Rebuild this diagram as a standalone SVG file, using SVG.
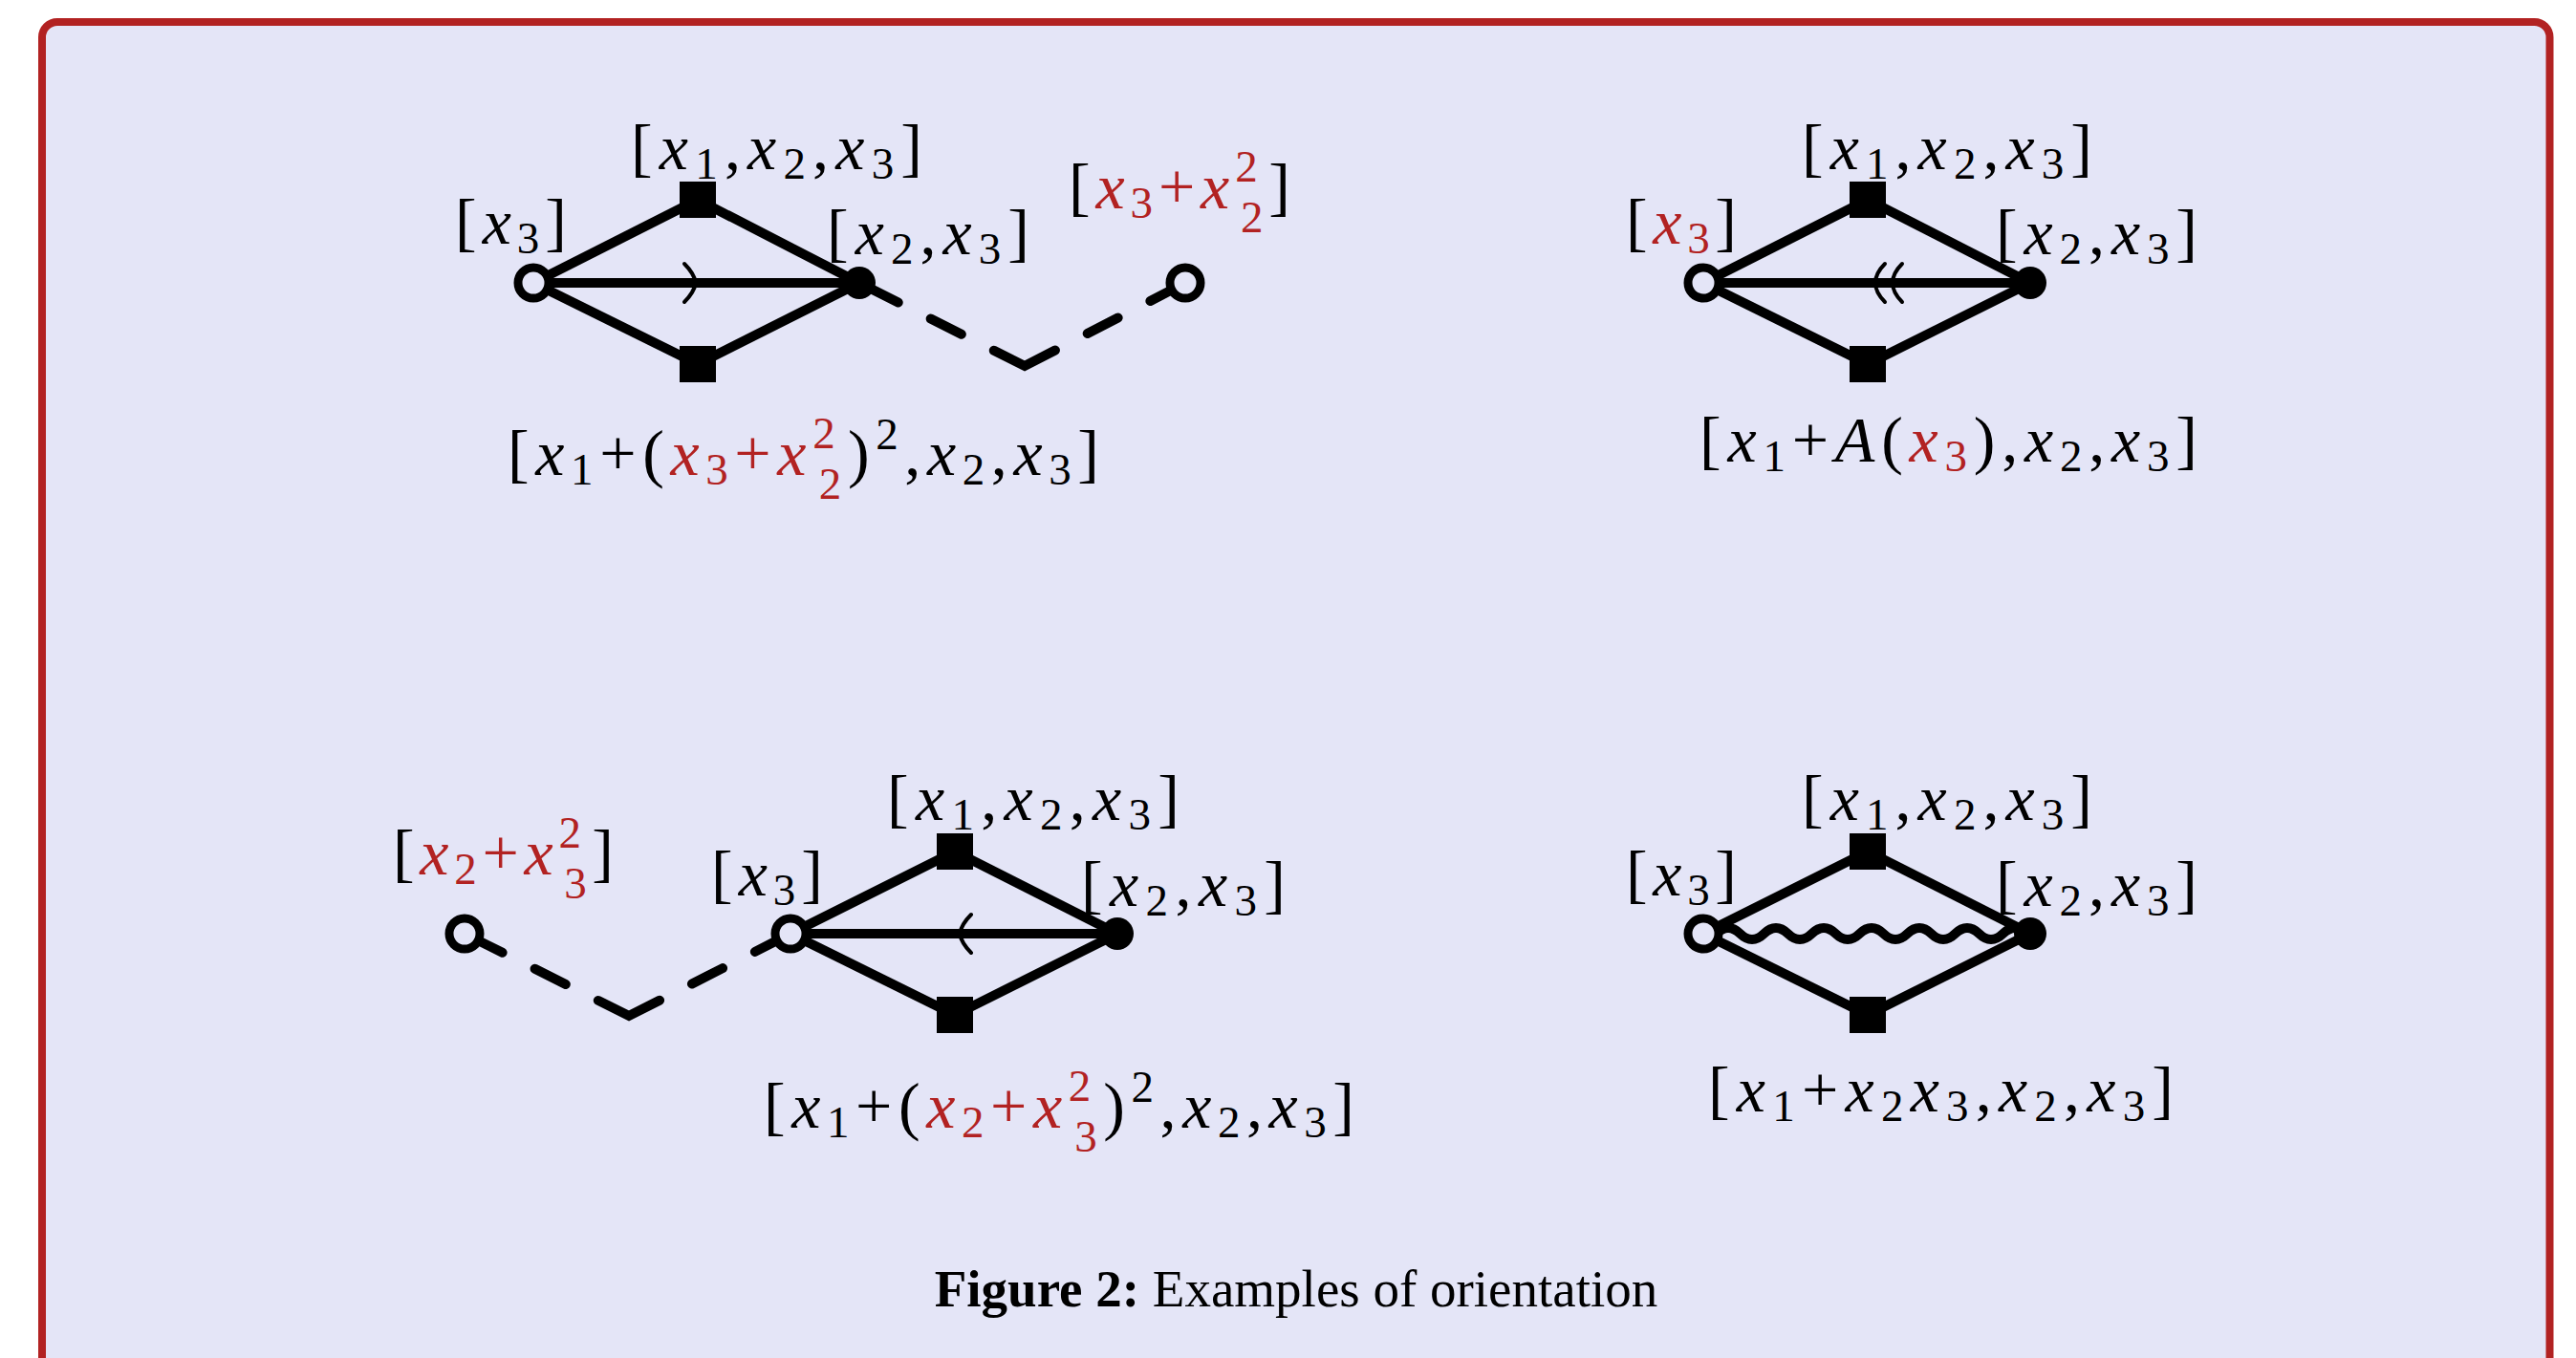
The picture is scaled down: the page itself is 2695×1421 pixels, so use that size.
<svg xmlns="http://www.w3.org/2000/svg" width="2695" height="1421" viewBox="0 0 2695 1421">
<style>
.bg{fill:#E4E5F7;stroke:#B22222;stroke-width:8}
.e{stroke:#000;stroke-width:10;fill:none}
.ar{stroke:#000;stroke-width:4;fill:none;stroke-linecap:round}
.dash{stroke:#000;stroke-width:10;fill:none;stroke-linecap:round;stroke-linejoin:miter}
.open{fill:#E4E5F7;stroke:#000;stroke-width:9}
.dot{fill:#000}
.sq{fill:#000}
.m{font-family:"Liberation Serif","Times New Roman",serif;font-size:68px;fill:#000}
.i{font-style:italic}
.s{font-size:47px;font-style:normal}
.r{fill:#B22222}
.cap{font-family:"Liberation Serif","Times New Roman",serif;font-size:55px;fill:#000}
</style>
<rect class="bg" x="44" y="23" width="2623.5" height="1460" rx="16"/>
<g id="connectors">
  <line class="e" x1="558" y1="296" x2="730" y2="209"/>
  <line class="e" x1="730" y1="209" x2="899" y2="296"/>
  <line class="e" x1="558" y1="296" x2="730" y2="381"/>
  <line class="e" x1="730" y1="381" x2="899" y2="296"/>
  <line class="e" x1="558" y1="296" x2="899" y2="296"/>
  <path class="ar" d="M716,276 Q726,286 728,296 Q726,306 716,316"/>
  <path class="dash" stroke-dasharray="45.6 38 36 38 72 38 36 38 36 60" d="M899,296 L1072,383 L1240,296"/>
  <line class="e" x1="1782" y1="296" x2="1954" y2="209"/>
  <line class="e" x1="1954" y1="209" x2="2124" y2="296"/>
  <line class="e" x1="1782" y1="296" x2="1954" y2="381"/>
  <line class="e" x1="1954" y1="381" x2="2124" y2="296"/>
  <line class="e" x1="1782" y1="296" x2="2124" y2="296"/>
  <path class="ar" d="M1972,276 Q1962,286 1962,296 Q1962,306 1972,316"/>
  <path class="ar" d="M1990,276 Q1980,286 1980,296 Q1980,306 1990,316"/>
  <path class="dash" stroke-dasharray="44.3 38 36 38 72 38 36 38 36 60" d="M486,977 L658,1063 L827,977"/>
  <line class="e" x1="827" y1="977" x2="999" y2="891"/>
  <line class="e" x1="999" y1="891" x2="1169" y2="977"/>
  <line class="e" x1="827" y1="977" x2="999" y2="1062"/>
  <line class="e" x1="999" y1="1062" x2="1169" y2="977"/>
  <line class="e" x1="827" y1="977" x2="1169" y2="977"/>
  <path class="ar" d="M1016,957 Q1006,967 1004,977 Q1006,987 1016,997"/>
  <line class="e" x1="1782" y1="977" x2="1954" y2="891"/>
  <line class="e" x1="1954" y1="891" x2="2124" y2="977"/>
  <line class="e" x1="1782" y1="977" x2="1954" y2="1062"/>
  <line class="e" x1="1954" y1="1062" x2="2124" y2="977"/>
  <path class="e" d="M1795.5,977 q12.5,-12 25,0 t25,0 t25,0 t25,0 t25,0 t25,0 t25,0 t25,0 t25,0 t25,0 t25,0 t25,0 t25,0"/>
</g>

<g id="d1-src">
  <circle class="open" cx="558" cy="296" r="16"/>
  <text class="m" x="476" y="255" textLength="117" lengthAdjust="spacing">[<tspan class="i">x</tspan><tspan class="s" dy="10">3</tspan><tspan dy="-10">]</tspan></text>
</g>
<g id="d1-top">
  <rect class="sq" x="711" y="190" width="38" height="38"/>
  <text class="m" x="660" y="177" textLength="305" lengthAdjust="spacing">[<tspan class="i">x</tspan><tspan class="s" dy="10">1</tspan><tspan dy="-10">,</tspan><tspan class="i">x</tspan><tspan class="s" dy="10">2</tspan><tspan dy="-10">,</tspan><tspan class="i">x</tspan><tspan class="s" dy="10">3</tspan><tspan dy="-10">]</tspan></text>
</g>
<g id="d1-bot">
  <rect class="sq" x="711" y="362" width="38" height="38"/>
  <text class="m" x="531" y="497" textLength="619" lengthAdjust="spacing">[<tspan class="i">x</tspan><tspan class="s" dy="10">1</tspan><tspan dy="-10">+(</tspan><tspan class="r"><tspan class="i">x</tspan><tspan class="s" dy="10">3</tspan><tspan dy="-10">+</tspan><tspan class="i">x</tspan><tspan class="s" dy="-28">2</tspan><tspan class="s" dx="-23.5" dy="53">2</tspan></tspan><tspan dy="-25">)</tspan><tspan class="s" dy="-27">2</tspan><tspan dy="27">,</tspan><tspan class="i">x</tspan><tspan class="s" dy="10">2</tspan><tspan dy="-10">,</tspan><tspan class="i">x</tspan><tspan class="s" dy="10">3</tspan><tspan dy="-10">]</tspan></text>
</g>
<g id="d1-dot">
  <circle class="dot" cx="899" cy="296" r="17"/>
  <text class="m" x="865" y="266" textLength="212" lengthAdjust="spacing">[<tspan class="i">x</tspan><tspan class="s" dy="10">2</tspan><tspan dy="-10">,</tspan><tspan class="i">x</tspan><tspan class="s" dy="10">3</tspan><tspan dy="-10">]</tspan></text>
</g>
<g id="d1-ext">
  <circle class="open" cx="1240" cy="296" r="16"/>
  <text class="m" x="1118" y="218" textLength="232" lengthAdjust="spacing">[<tspan class="r"><tspan class="i">x</tspan><tspan class="s" dy="10">3</tspan><tspan dy="-10">+</tspan><tspan class="i">x</tspan><tspan class="s" dy="-28">2</tspan><tspan class="s" dx="-23.5" dy="53">2</tspan></tspan><tspan dy="-25">]</tspan></text>
</g>

<g id="d2-src">
  <circle class="open" cx="1782" cy="296" r="16"/>
  <text class="m" x="1701" y="255" textLength="116" lengthAdjust="spacing">[<tspan class="r"><tspan class="i">x</tspan><tspan class="s" dy="10">3</tspan></tspan><tspan dy="-10">]</tspan></text>
</g>
<g id="d2-top">
  <rect class="sq" x="1935" y="190" width="38" height="38"/>
  <text class="m" x="1885" y="177" textLength="304" lengthAdjust="spacing">[<tspan class="i">x</tspan><tspan class="s" dy="10">1</tspan><tspan dy="-10">,</tspan><tspan class="i">x</tspan><tspan class="s" dy="10">2</tspan><tspan dy="-10">,</tspan><tspan class="i">x</tspan><tspan class="s" dy="10">3</tspan><tspan dy="-10">]</tspan></text>
</g>
<g id="d2-bot">
  <rect class="sq" x="1935" y="362" width="38" height="38"/>
  <text class="m" x="1778" y="483" textLength="521" lengthAdjust="spacing">[<tspan class="i">x</tspan><tspan class="s" dy="10">1</tspan><tspan dy="-10">+</tspan><tspan class="i">A</tspan>(<tspan class="r"><tspan class="i">x</tspan><tspan class="s" dy="10">3</tspan></tspan><tspan dy="-10">),</tspan><tspan class="i">x</tspan><tspan class="s" dy="10">2</tspan><tspan dy="-10">,</tspan><tspan class="i">x</tspan><tspan class="s" dy="10">3</tspan><tspan dy="-10">]</tspan></text>
</g>
<g id="d2-dot">
  <circle class="dot" cx="2124" cy="296" r="17"/>
  <text class="m" x="2088" y="266" textLength="211" lengthAdjust="spacing">[<tspan class="i">x</tspan><tspan class="s" dy="10">2</tspan><tspan dy="-10">,</tspan><tspan class="i">x</tspan><tspan class="s" dy="10">3</tspan><tspan dy="-10">]</tspan></text>
</g>

<g id="d3-ext">
  <circle class="open" cx="486" cy="977" r="16"/>
  <text class="m" x="411" y="915" textLength="231" lengthAdjust="spacing">[<tspan class="r"><tspan class="i">x</tspan><tspan class="s" dy="10">2</tspan><tspan dy="-10">+</tspan><tspan class="i">x</tspan><tspan class="s" dy="-28">2</tspan><tspan class="s" dx="-23.5" dy="53">3</tspan></tspan><tspan dy="-25">]</tspan></text>
</g>
<g id="d3-src">
  <circle class="open" cx="827" cy="977" r="16"/>
  <text class="m" x="744" y="937" textLength="117" lengthAdjust="spacing">[<tspan class="i">x</tspan><tspan class="s" dy="10">3</tspan><tspan dy="-10">]</tspan></text>
</g>
<g id="d3-top">
  <rect class="sq" x="980" y="872" width="38" height="38"/>
  <text class="m" x="928" y="858" textLength="306" lengthAdjust="spacing">[<tspan class="i">x</tspan><tspan class="s" dy="10">1</tspan><tspan dy="-10">,</tspan><tspan class="i">x</tspan><tspan class="s" dy="10">2</tspan><tspan dy="-10">,</tspan><tspan class="i">x</tspan><tspan class="s" dy="10">3</tspan><tspan dy="-10">]</tspan></text>
</g>
<g id="d3-bot">
  <rect class="sq" x="980" y="1043" width="38" height="38"/>
  <text class="m" x="799" y="1180" textLength="618" lengthAdjust="spacing">[<tspan class="i">x</tspan><tspan class="s" dy="10">1</tspan><tspan dy="-10">+(</tspan><tspan class="r"><tspan class="i">x</tspan><tspan class="s" dy="10">2</tspan><tspan dy="-10">+</tspan><tspan class="i">x</tspan><tspan class="s" dy="-28">2</tspan><tspan class="s" dx="-23.5" dy="53">3</tspan></tspan><tspan dy="-25">)</tspan><tspan class="s" dy="-27">2</tspan><tspan dy="27">,</tspan><tspan class="i">x</tspan><tspan class="s" dy="10">2</tspan><tspan dy="-10">,</tspan><tspan class="i">x</tspan><tspan class="s" dy="10">3</tspan><tspan dy="-10">]</tspan></text>
</g>
<g id="d3-dot">
  <circle class="dot" cx="1169" cy="977" r="17"/>
  <text class="m" x="1131" y="948" textLength="214" lengthAdjust="spacing">[<tspan class="i">x</tspan><tspan class="s" dy="10">2</tspan><tspan dy="-10">,</tspan><tspan class="i">x</tspan><tspan class="s" dy="10">3</tspan><tspan dy="-10">]</tspan></text>
</g>

<g id="d4-src">
  <circle class="open" cx="1782" cy="977" r="16"/>
  <text class="m" x="1701" y="937" textLength="116" lengthAdjust="spacing">[<tspan class="i">x</tspan><tspan class="s" dy="10">3</tspan><tspan dy="-10">]</tspan></text>
</g>
<g id="d4-top">
  <rect class="sq" x="1935" y="872" width="38" height="38"/>
  <text class="m" x="1885" y="858" textLength="304" lengthAdjust="spacing">[<tspan class="i">x</tspan><tspan class="s" dy="10">1</tspan><tspan dy="-10">,</tspan><tspan class="i">x</tspan><tspan class="s" dy="10">2</tspan><tspan dy="-10">,</tspan><tspan class="i">x</tspan><tspan class="s" dy="10">3</tspan><tspan dy="-10">]</tspan></text>
</g>
<g id="d4-bot">
  <rect class="sq" x="1935" y="1043" width="38" height="38"/>
  <text class="m" x="1787" y="1163" textLength="487" lengthAdjust="spacing">[<tspan class="i">x</tspan><tspan class="s" dy="10">1</tspan><tspan dy="-10">+</tspan><tspan class="i">x</tspan><tspan class="s" dy="10">2</tspan><tspan class="i" dy="-10">x</tspan><tspan class="s" dy="10">3</tspan><tspan dy="-10">,</tspan><tspan class="i">x</tspan><tspan class="s" dy="10">2</tspan><tspan dy="-10">,</tspan><tspan class="i">x</tspan><tspan class="s" dy="10">3</tspan><tspan dy="-10">]</tspan></text>
</g>
<g id="d4-dot">
  <circle class="dot" cx="2124" cy="977" r="17"/>
  <text class="m" x="2088" y="948" textLength="211" lengthAdjust="spacing">[<tspan class="i">x</tspan><tspan class="s" dy="10">2</tspan><tspan dy="-10">,</tspan><tspan class="i">x</tspan><tspan class="s" dy="10">3</tspan><tspan dy="-10">]</tspan></text>
</g>

<text class="cap" x="1356" y="1367" text-anchor="middle"><tspan font-weight="bold">Figure 2:</tspan> Examples of orientation</text>
</svg>
